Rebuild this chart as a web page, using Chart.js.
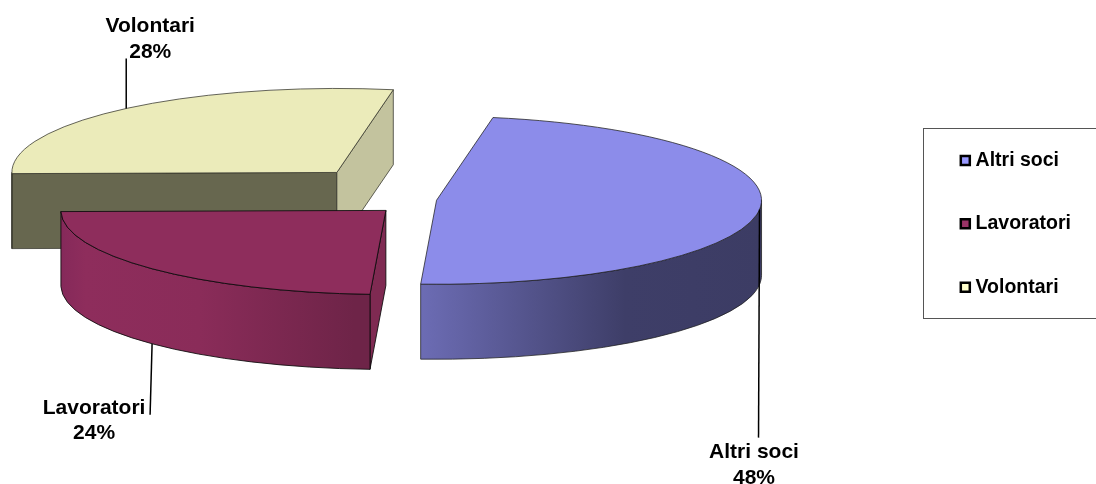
<!DOCTYPE html>
<html><head><meta charset="utf-8">
<style>html,body{margin:0;padding:0;background:#fff}canvas{display:block}</style>
<script src="https://cdn.jsdelivr.net/npm/chart.js@4"></script>
</head><body><canvas id="c" width="1096" height="484"></canvas>
<script>
const categories = ['Altri soci', 'Lavoratori', 'Volontari'];
const shares = [48, 24, 28];
const explodeBy = [9, 58, 140];
const topColors = ['#8c8cea', '#8e2d5c', '#ebebba'];
const legendColors = ['#9999ff', '#993366', '#ffffcc'];
const wallStops = [
  [[0, '#6c6cb4'], [0.6, '#3e3e68'], [1, '#3c3c64']],
  [[0, '#85295a'], [0.08, '#8e2d5c'], [0.45, '#8a2c59'], [0.95, '#6e2448'], [1, '#6e2448']],
  [[0, '#67674f'], [1, '#67674f']]
];
const startCutColors = [null, '#7f2a52', '#67674f'];
const endCutColors = [null, null, '#c3c39e'];
const outlineColors = ['rgba(30,30,30,0.75)', 'rgba(10,10,10,0.85)', 'rgba(50,50,40,0.75)'];
const paintOrder = [2, 1, 0];
// leader line / label placement relative to each slice's mid-angle rim point
const leaderFromWall = [false, true, false];
const leaderEnd = [[-1, 228], [-2, 71], [0, -50]];
const labelShift = [[-5.5, 243], [-58, 64], [24, -82]];

const TILT = 84 / 325, DEPTH = 75, RADIUS = 325;
const FONT = 'bold 21px "Liberation Sans", Arial, sans-serif';

function geom(chart, i) {
  const el = chart.getDatasetMeta(0).data[i];
  const mid = (el.startAngle + el.endAngle) / 2;
  const cx = el.x + explodeBy[i] * Math.cos(mid);
  const cy = el.y + TILT * explodeBy[i] * Math.sin(mid);
  const pt = (a, d = 0) => [cx + el.outerRadius * Math.cos(a), cy + TILT * el.outerRadius * Math.sin(a) + d];
  return { el, mid, cx, cy, pt, r: el.outerRadius };
}
function wallPath(ctx, g, a0, a1) {
  ctx.beginPath();
  ctx.ellipse(g.cx, g.cy, g.r, g.r * TILT, 0, a0, a1);
  ctx.ellipse(g.cx, g.cy + DEPTH, g.r, g.r * TILT, 0, a1, a0, true);
  ctx.closePath();
}
function cutWall(ctx, g, a, color) {
  const p = g.pt(a);
  ctx.beginPath();
  ctx.moveTo(g.cx, g.cy);
  ctx.lineTo(p[0], p[1]);
  ctx.lineTo(p[0], p[1] + DEPTH);
  ctx.lineTo(g.cx, g.cy + DEPTH);
  ctx.closePath();
  ctx.fillStyle = color;
  ctx.fill();
  ctx.stroke();
}
function drawSlice(chart, i) {
  const ctx = chart.ctx, g = geom(chart, i), el = g.el;
  ctx.save();
  ctx.lineWidth = 1;
  ctx.strokeStyle = outlineColors[i];
  // cut faces
  if (startCutColors[i]) cutWall(ctx, g, el.startAngle, startCutColors[i]);
  if (endCutColors[i]) cutWall(ctx, g, el.endAngle, endCutColors[i]);
  // rim
  const a0 = Math.max(el.startAngle, 0), a1 = Math.min(el.endAngle, Math.PI);
  if (a1 > a0) {
    const x0 = g.pt(a1)[0], x1 = g.pt(a0)[0];
    const grad = ctx.createLinearGradient(x0, 0, x1, 0);
    wallStops[i].forEach(s => grad.addColorStop(s[0], s[1]));
    wallPath(ctx, g, a0, a1);
    ctx.fillStyle = grad;
    ctx.fill();
    ctx.stroke();
  }
  ctx.restore();
  // top face: the library's own arc element, squashed into perspective
  ctx.save();
  ctx.translate(el.x, el.y);
  ctx.scale(1, TILT);
  ctx.translate(-el.x, -el.y);
  ctx.translate(explodeBy[i] * Math.cos(g.mid), explodeBy[i] * Math.sin(g.mid));
  el.draw(ctx);
  ctx.restore();
  // top outline
  ctx.save();
  ctx.lineWidth = 1;
  ctx.strokeStyle = outlineColors[i];
  ctx.beginPath();
  ctx.moveTo(g.cx, g.cy);
  ctx.ellipse(g.cx, g.cy, g.r, g.r * TILT, 0, el.startAngle, el.endAngle);
  ctx.closePath();
  ctx.stroke();
  ctx.restore();
}
function drawLabels(chart) {
  const ctx = chart.ctx;
  const total = shares.reduce((a, b) => a + b, 0);
  ctx.save();
  categories.forEach((name, i) => {
    const g = geom(chart, i);
    const a = g.pt(g.mid, leaderFromWall[i] ? DEPTH : 0);
    ctx.strokeStyle = '#000';
    ctx.lineWidth = 1.5;
    ctx.beginPath();
    ctx.moveTo(a[0], a[1]);
    ctx.lineTo(a[0] + leaderEnd[i][0], a[1] + leaderEnd[i][1]);
    ctx.stroke();
    ctx.fillStyle = '#000';
    ctx.font = FONT;
    ctx.textAlign = 'center';
    ctx.textBaseline = 'middle';
    const lx = a[0] + labelShift[i][0], ly = a[1] + labelShift[i][1];
    ctx.fillText(name, lx, ly);
    ctx.fillText(Math.round(shares[i] / total * 100) + '%', lx, ly + 25.5);
  });
  ctx.restore();
}
const pie3d = {
  id: 'pie3d',
  afterLayout(chart) {
    const l = chart.legend;
    l.left = 921; l.right = 1096; l.top = 107; l.bottom = 484;
  },
  beforeDraw(chart) {
    const ctx = chart.ctx, l = chart.legend;
    ctx.save();
    ctx.fillStyle = '#fff';
    ctx.fillRect(0, 0, chart.width, chart.height);
    ctx.strokeStyle = '#555';
    ctx.lineWidth = 1;
    ctx.strokeRect(l.left + 2.5, l.top + 21.5, 200, 190);
    ctx.restore();
  },
  beforeDatasetDraw(chart) {
    paintOrder.forEach(i => drawSlice(chart, i));
    return false;
  },
  afterDatasetsDraw: drawLabels
};
new Chart(document.getElementById('c'), {
  type: 'pie',
  data: { labels: categories, datasets: [{ data: shares, backgroundColor: topColors, borderWidth: 0, hoverOffset: 0 }] },
  options: {
    responsive: false, animation: false, rotation: 10, radius: RADIUS,
    layout: { padding: { right: 240.8, bottom: 84 } },
    plugins: {
      tooltip: { enabled: false },
      legend: {
        position: 'chartArea', align: 'start',
        labels: {
          usePointStyle: true, pointStyle: 'rect', boxWidth: 1, boxHeight: 9, padding: 43.8,
          color: '#000', font: { family: '"Liberation Sans", Arial, sans-serif', size: 19.5, weight: 'bold' },
          generateLabels(chart) {
            return Chart.overrides.pie.plugins.legend.labels.generateLabels(chart).map((it, i) =>
              Object.assign(it, { fillStyle: legendColors[i], strokeStyle: '#000', lineWidth: 2.5 }));
          }
        }
      }
    }
  },
  plugins: [pie3d]
});
</script></body></html>
